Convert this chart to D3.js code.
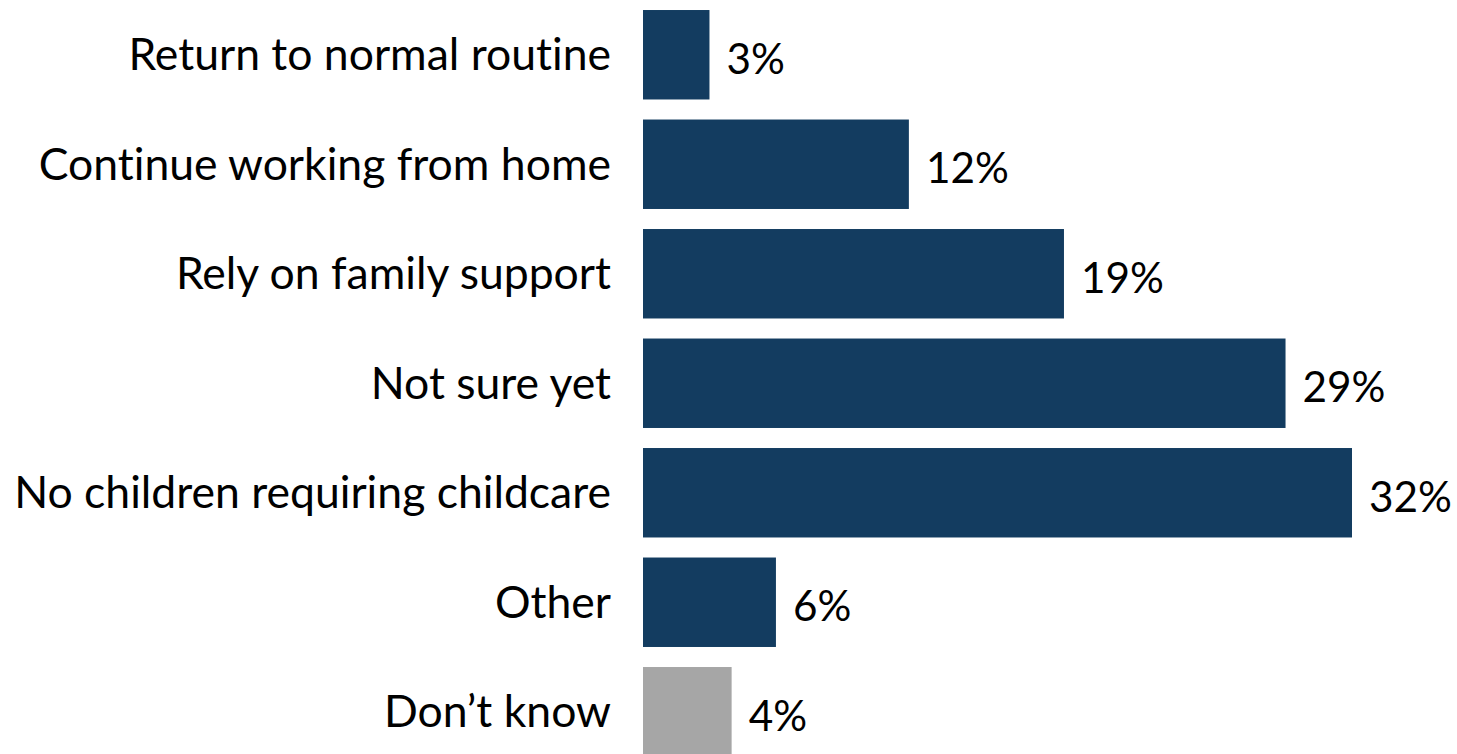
<!DOCTYPE html>
<html><head><meta charset="utf-8">
<script src="https://cdn.jsdelivr.net/npm/d3@7"></script>
<style>html,body{margin:0;padding:0;background:#fff;overflow:hidden} text{font-variant-ligatures:none;font-feature-settings:"liga" 0,"clig" 0}</style>
</head><body>
<svg id="chart" width="1457" height="754"></svg>
<script>
const categories = ["Return to normal routine","Continue working from home","Rely on family support","Not sure yet","No children requiring childcare","Other","Don\u2019t know"];
const values = [3,12,19,29,32,6,4];
const colors = ["#133c60","#133c60","#133c60","#133c60","#133c60","#133c60","#a6a6a6"];

const svg = d3.select("#chart");
const font = "Lato, 'Open Sans', sans-serif";
const x = d3.scaleLinear().domain([0,32]).range([643,1352]);
const y = d3.scaleBand().domain(categories).range([0,766.5]).paddingInner(0.183).paddingOuter(0.0915);

svg.selectAll("rect.bar").data(categories).join("rect")
  .attr("class","bar")
  .attr("x", x(0))
  .attr("y", d => y(d))
  .attr("width", (d,i) => x(values[i]) - x(0))
  .attr("height", y.bandwidth())
  .attr("fill", (d,i) => colors[i]);

const labels = svg.selectAll("text.cat").data(categories).join("text")
  .attr("class","cat")
  .attr("x", 611)
  .attr("y", d => y(d) + y.bandwidth()/2)
  .attr("dy","0.35em")
  .attr("text-anchor","end")
  .attr("font-family", font)
  .attr("font-size", 36)
  .attr("fill","#000")
  .text(d => d);

// fit font so longest label matches reference width
const longest = labels.filter(d => d === categories[4]).node();
const w = longest.getComputedTextLength();
const fs = 36 * 597 / w;
labels.attr("font-size", fs);

svg.selectAll("text.val").data(categories).join("text")
  .attr("class","val")
  .attr("x", (d,i) => x(values[i]) + 17)
  .attr("y", d => y(d) + y.bandwidth()/2 + 4)
  .attr("dy","0.35em")
  .attr("font-family", font)
  .attr("font-size", fs * 0.95)
  .attr("fill","#000")
  .text((d,i) => values[i] + "%");
</script>
</body></html>
